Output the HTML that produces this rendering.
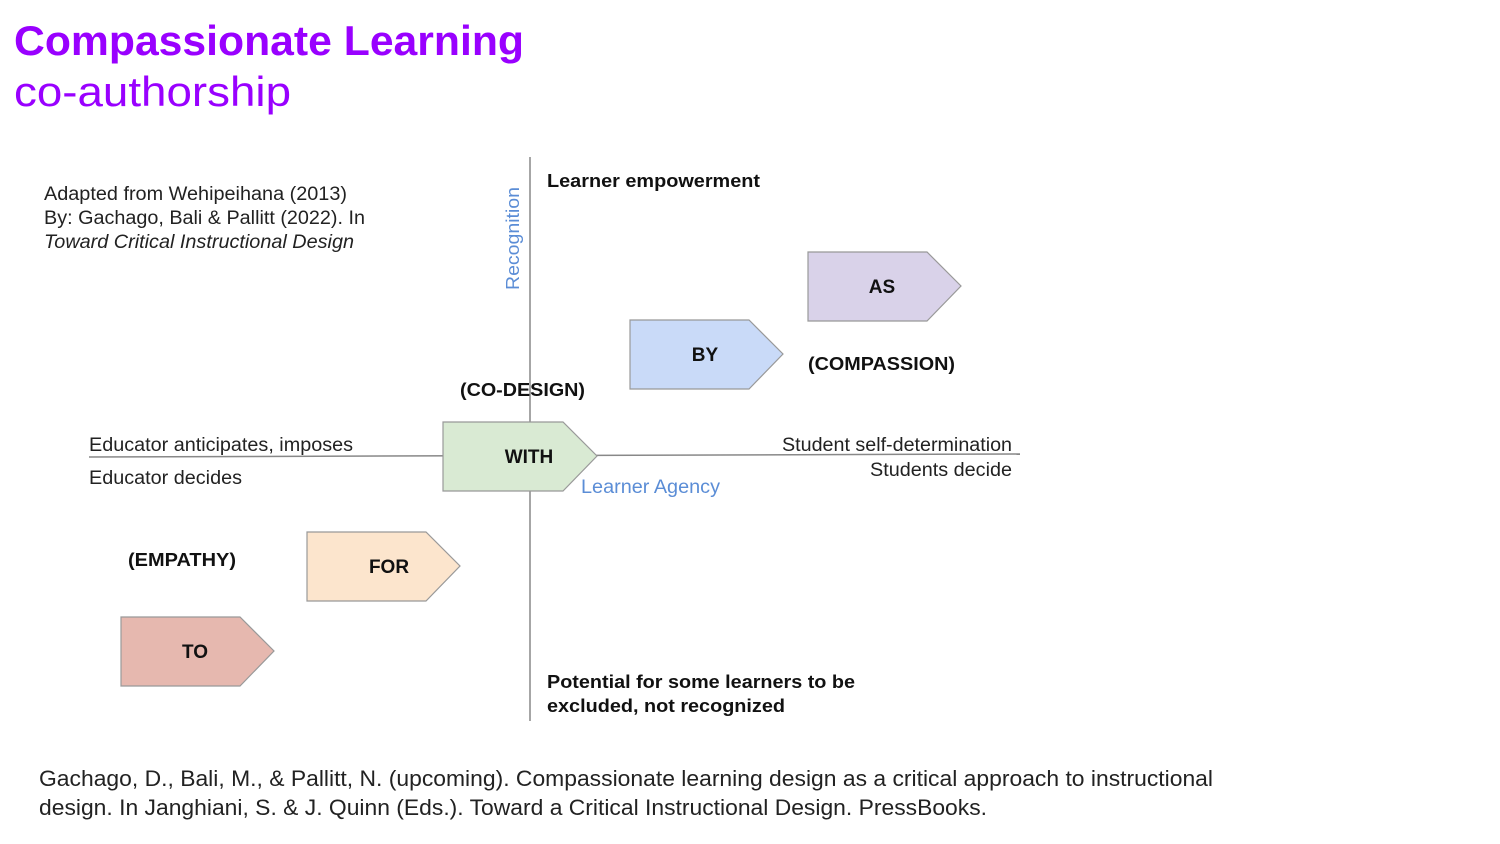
<!DOCTYPE html>
<html><head><meta charset="utf-8"><style>
body{margin:0;width:1500px;height:844px;background:#fff;overflow:hidden;font-family:"Liberation Sans",sans-serif}
svg{position:absolute;left:0;top:0}
</style></head><body>
<svg width="1500" height="844" viewBox="0 0 1500 844" font-family="Liberation Sans, sans-serif">
<text x="14" y="55" font-size="42" font-weight="bold" fill="#9900ff" textLength="510" lengthAdjust="spacingAndGlyphs">Compassionate Learning</text>
<text x="14" y="106" font-size="42" fill="#9900ff" textLength="277" lengthAdjust="spacingAndGlyphs">co-authorship</text>
<g font-size="19" fill="#222">
<text x="44" y="200" textLength="303" lengthAdjust="spacingAndGlyphs">Adapted from Wehipeihana (2013)</text>
<text x="44" y="224" textLength="321" lengthAdjust="spacingAndGlyphs">By: Gachago, Bali &amp; Pallitt (2022). In</text>
<text x="44" y="248" font-style="italic" textLength="310" lengthAdjust="spacingAndGlyphs">Toward Critical Instructional Design</text>
</g>
<line x1="530" y1="157" x2="530" y2="721" stroke="#888" stroke-width="1.5"/>
<line x1="89" y1="457" x2="1020" y2="454" stroke="#888" stroke-width="1.5"/>
<text transform="translate(519,290) rotate(-90)" font-size="18" fill="#5b8dd6" textLength="103" lengthAdjust="spacingAndGlyphs">Recognition</text>
<g font-size="18" font-weight="bold" fill="#111">
<text x="547" y="187" textLength="213" lengthAdjust="spacingAndGlyphs">Learner empowerment</text>
<text x="460" y="396" textLength="125" lengthAdjust="spacingAndGlyphs">(CO-DESIGN)</text>
<text x="808" y="370" textLength="147" lengthAdjust="spacingAndGlyphs">(COMPASSION)</text>
<text x="128" y="566" textLength="108" lengthAdjust="spacingAndGlyphs">(EMPATHY)</text>
<text x="547" y="688" textLength="308" lengthAdjust="spacingAndGlyphs">Potential for some learners to be</text>
<text x="547" y="712" textLength="238" lengthAdjust="spacingAndGlyphs">excluded, not recognized</text>
</g>
<g font-size="19" fill="#222">
<text x="89" y="451" textLength="264" lengthAdjust="spacingAndGlyphs">Educator anticipates, imposes</text>
<text x="89" y="484" textLength="153" lengthAdjust="spacingAndGlyphs">Educator decides</text>
<text x="782" y="451" textLength="230" lengthAdjust="spacingAndGlyphs">Student self-determination</text>
<text x="870" y="476" textLength="142" lengthAdjust="spacingAndGlyphs">Students decide</text>
</g>
<text x="581" y="493" font-size="19" fill="#5b8dd6" textLength="139" lengthAdjust="spacingAndGlyphs">Learner Agency</text>
<g stroke="#999" stroke-width="1.2">
<polygon points="808,252 927,252 961,286 927,321 808,321" fill="#d9d2e9"/>
<polygon points="630,320 749,320 783,354 749,389 630,389" fill="#c9daf8"/>
<polygon points="443,422 563,422 597,456 563,491 443,491" fill="#d9ead3"/>
<polygon points="307,532 426,532 460,566 426,601 307,601" fill="#fce5cd"/>
<polygon points="121,617 240,617 274,651 240,686 121,686" fill="#e6b8af"/>
</g>
<g font-size="19" font-weight="bold" fill="#111" text-anchor="middle">
<text x="882" y="293">AS</text>
<text x="705" y="361">BY</text>
<text x="529" y="463">WITH</text>
<text x="389" y="573">FOR</text>
<text x="195" y="658">TO</text>
</g>
<g font-size="22" fill="#222">
<text x="39" y="786" textLength="1174" lengthAdjust="spacingAndGlyphs">Gachago, D., Bali, M., &amp; Pallitt, N. (upcoming). Compassionate learning design as a critical approach to instructional</text>
<text x="39" y="815" textLength="948" lengthAdjust="spacingAndGlyphs">design. In Janghiani, S. &amp; J. Quinn (Eds.). Toward a Critical Instructional Design. PressBooks.</text>
</g>
</svg>
</body></html>
